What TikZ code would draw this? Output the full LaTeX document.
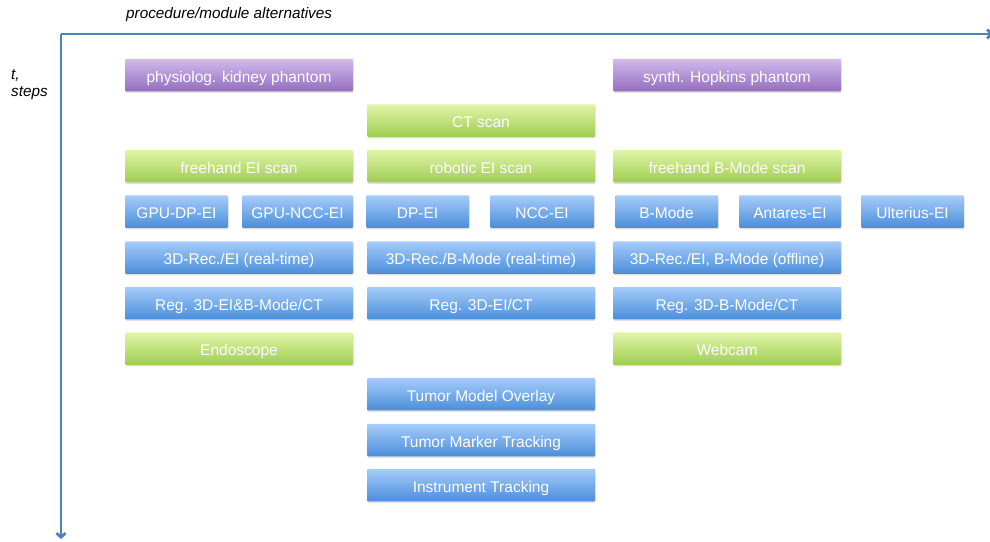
\documentclass[tikz,border=0pt]{standalone}
\usepackage{fontspec}
\setmainfont{Liberation Sans}
\usetikzlibrary{arrows.meta}
\usetikzlibrary{shadows}

\definecolor{axisblue}{RGB}{79,129,189}
\definecolor{bluetop}{RGB}{166,204,250}
\definecolor{bluebot}{RGB}{74,142,218}
\definecolor{greentop}{RGB}{224,245,170}
\definecolor{greenbot}{RGB}{160,205,80}
\definecolor{purpletop}{RGB}{210,186,238}
\definecolor{purplebot}{RGB}{148,110,190}

\tikzset{
    box/.style={rectangle, rounded corners=1pt, minimum height=32.5pt, inner sep=0pt,
        text=white, font=\fontsize{15.5}{17}\selectfont, text height=16pt, text depth=1.3pt,
        drop shadow={opacity=0.25, shadow xshift=0.6pt, shadow yshift=-1.5pt}},
    bluebox/.style={box, top color=bluetop, bottom color=bluebot},
    greenbox/.style={box, top color=greentop, bottom color=greenbot},
    purplebox/.style={box, top color=purpletop, bottom color=purplebot},
    axislabel/.style={font=\fontsize{15.3}{17}\selectfont\itshape, inner sep=0pt, anchor=west},
    axisline/.style={draw=axisblue, line width=2.8pt, -{Straight Barb[length=4pt,width=9pt]}}
}

\begin{document}
\begin{tikzpicture}[x=1pt,y=-1pt]
    \useasboundingbox (0,0) rectangle (990,541);
    % axes
    \coordinate (origin) at (61,34);
    \coordinate (xend) at (993,34);
    \coordinate (yend) at (61,539);
    \draw[axisline] (origin) -- (xend);
    \draw[axisline] (origin) -- (yend);
    \node[axislabel] (xlabel) at (126,15) {procedure/module alternatives};
    \node[axislabel] (tlabel) at (11,76) {t,};
    \node[axislabel] (steplabel) at (11,93) {steps};
    % phantoms
    \node[purplebox, minimum width=228pt] (kidney) at (239,75) {physiolog. kidney phantom};
    \node[purplebox, minimum width=228pt] (hopkins) at (727,75) {synth. Hopkins phantom};
    % scans
    \node[greenbox, minimum width=228pt] (ct) at (481,120.5) {CT scan};
    \node[greenbox, minimum width=228pt] (freeel) at (239,166) {freehand EI scan};
    \node[greenbox, minimum width=228pt] (robel) at (481,166) {robotic EI scan};
    \node[greenbox, minimum width=228pt] (freebm) at (727,166) {freehand B-Mode scan};
    % elastography / imaging modules
    \node[bluebox, minimum width=103pt] (gpudp) at (176.5,211.5) {GPU-DP-EI};
    \node[bluebox, minimum width=111pt] (gpuncc) at (297.5,211.5) {GPU-NCC-EI};
    \node[bluebox, minimum width=103pt] (dp) at (417.5,211.5) {DP-EI};
    \node[bluebox, minimum width=104pt] (ncc) at (542,211.5) {NCC-EI};
    \node[bluebox, minimum width=103pt] (bmode) at (666.5,211.5) {B-Mode};
    \node[bluebox, minimum width=102pt] (antares) at (790,211.5) {Antares-EI};
    \node[bluebox, minimum width=103pt] (ulterius) at (912.5,211.5) {Ulterius-EI};
    % reconstruction
    \node[bluebox, minimum width=228pt] (recel) at (239,257.5) {3D-Rec./EI (real-time)};
    \node[bluebox, minimum width=228pt] (recbm) at (481,257.5) {3D-Rec./B-Mode (real-time)};
    \node[bluebox, minimum width=228pt] (recoff) at (727,257.5) {3D-Rec./EI, B-Mode (offline)};
    % registration
    \node[bluebox, minimum width=228pt] (regelbm) at (239,303) {Reg. 3D-EI\&B-Mode/CT};
    \node[bluebox, minimum width=228pt] (regel) at (481,303) {Reg. 3D-EI/CT};
    \node[bluebox, minimum width=228pt] (regbm) at (727,303) {Reg. 3D-B-Mode/CT};
    % cameras
    \node[greenbox, minimum width=228pt] (endo) at (239,348.5) {Endoscope};
    \node[greenbox, minimum width=228pt] (webcam) at (727,348.5) {Webcam};
    % overlay and tracking
    \node[bluebox, minimum width=228pt] (overlay) at (481,394) {Tumor Model Overlay};
    \node[bluebox, minimum width=228pt] (marker) at (481,440) {Tumor Marker Tracking};
    \node[bluebox, minimum width=228pt] (instr) at (481,485) {Instrument Tracking};
\end{tikzpicture}
\end{document}
